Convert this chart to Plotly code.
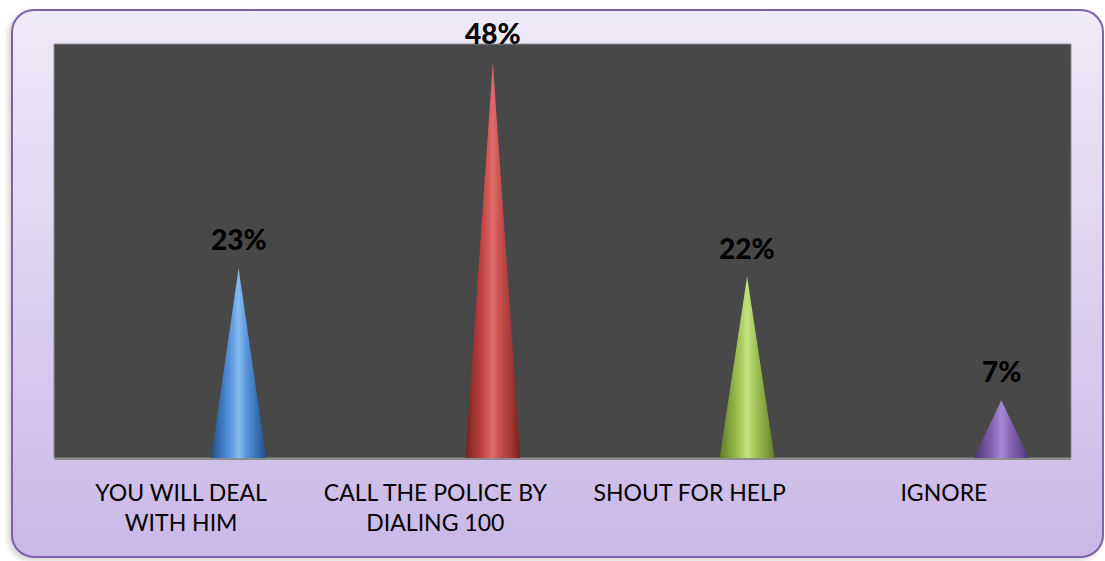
import base64
import plotly.graph_objects as go

# Survey responses and their shares
categories = ["YOU WILL DEAL<br>WITH HIM", "CALL THE POLICE BY<br>DIALING 100",
              "SHOUT FOR HELP", "IGNORE"]
shares = [0.23, 0.48, 0.22, 0.07]
share_labels = ["23%", "48%", "22%", "7%"]

# Cone shading (dark edge -> highlight -> dark edge) per series
cone_shades = [
    ["#244F86", "#3A71B8", "#5591DA", "#86BCF0", "#5490D8", "#386FB5", "#244F88"],
    ["#72201E", "#A23432", "#C64947", "#DE6C6A", "#C24A48", "#A33836", "#76221F"],
    ["#617A28", "#809E3A", "#9DC052", "#C2E27E", "#A0C257", "#83A23E", "#647E2B"],
    ["#4B3570", "#684C93", "#8264B0", "#A388D3", "#8567B3", "#6A4F96", "#4E3774"],
]

FIG_W, FIG_H = 1105, 561
MARGIN = dict(l=54, r=34, t=44, b=103)
Y_MAX = 0.502
CONE_SHIFT = 0.226      # depth offset of the cones from the category centre
CONE_HALF = 0.108       # half base width in category units

fig = go.Figure()

for i, (v, shades) in enumerate(zip(shares, cone_shades)):
    c = i + CONE_SHIFT
    n = len(shades) - 1
    fig.add_trace(go.Scatter(
        x=[c - CONE_HALF, c, c + CONE_HALF, c - CONE_HALF],
        y=[0, v, 0, 0],
        mode="lines",
        line=dict(width=0),
        fill="toself",
        fillgradient=dict(type="horizontal",
                          colorscale=[[k / n, s] for k, s in enumerate(shades)]),
        hoverinfo="skip",
        showlegend=False,
    ))
    fig.add_annotation(
        x=c, y=v, text=share_labels[i], showarrow=False,
        yshift=29, font=dict(family="Lato", size=28, color="#000000", weight=900),
    )

# Rounded lavender frame with a soft shadow behind the whole chart
svg = f"""<svg xmlns="http://www.w3.org/2000/svg" width="{FIG_W}" height="{FIG_H}" viewBox="0 0 {FIG_W} {FIG_H}">
<defs>
<linearGradient id="g" x1="0" y1="0" x2="0" y2="1">
<stop offset="0" stop-color="#EFEAF8"/>
<stop offset="1" stop-color="#C9B8E6"/>
</linearGradient>
<filter id="s" x="-5%" y="-5%" width="110%" height="110%"><feGaussianBlur stdDeviation="3"/></filter>
</defs>
<rect x="9" y="13" width="1091" height="547" rx="22" fill="#8a8a8a" opacity="0.45" filter="url(#s)"/>
<rect x="12" y="10" width="1091" height="547" rx="22" fill="url(#g)" stroke="#7E62A8" stroke-width="2"/>
</svg>"""
svg_uri = "data:image/svg+xml;base64," + base64.b64encode(svg.encode()).decode()

plot_w = FIG_W - MARGIN["l"] - MARGIN["r"]
plot_h = FIG_H - MARGIN["t"] - MARGIN["b"]

fig.update_layout(
    width=FIG_W, height=FIG_H,
    margin=MARGIN,
    paper_bgcolor="#FFFFFF",
    plot_bgcolor="rgba(0,0,0,0)",
    images=[dict(
        source=svg_uri, xref="paper", yref="paper",
        x=-MARGIN["l"] / plot_w, y=1 + MARGIN["t"] / plot_h,
        sizex=FIG_W / plot_w, sizey=FIG_H / plot_h,
        xanchor="left", yanchor="top", sizing="stretch", layer="below",
    )],
    shapes=[dict(
        type="rect", xref="paper", yref="paper", x0=0, x1=1, y0=0, y1=1,
        fillcolor="#484848", line=dict(color="#8E8E92", width=1), layer="below",
    )],
    xaxis=dict(
        range=[-0.5, 3.5], tickmode="array", tickvals=list(range(len(categories))),
        ticktext=categories, showgrid=False, zeroline=False,
        showline=True, linecolor="#8C8C8C", linewidth=2, ticks="",
        ticklabelstandoff=13,
        tickfont=dict(family="Lato", size=23, color="#000000"),
    ),
    yaxis=dict(range=[0, Y_MAX], visible=False, showgrid=False, zeroline=False),
)

fig.write_html("out.html")
